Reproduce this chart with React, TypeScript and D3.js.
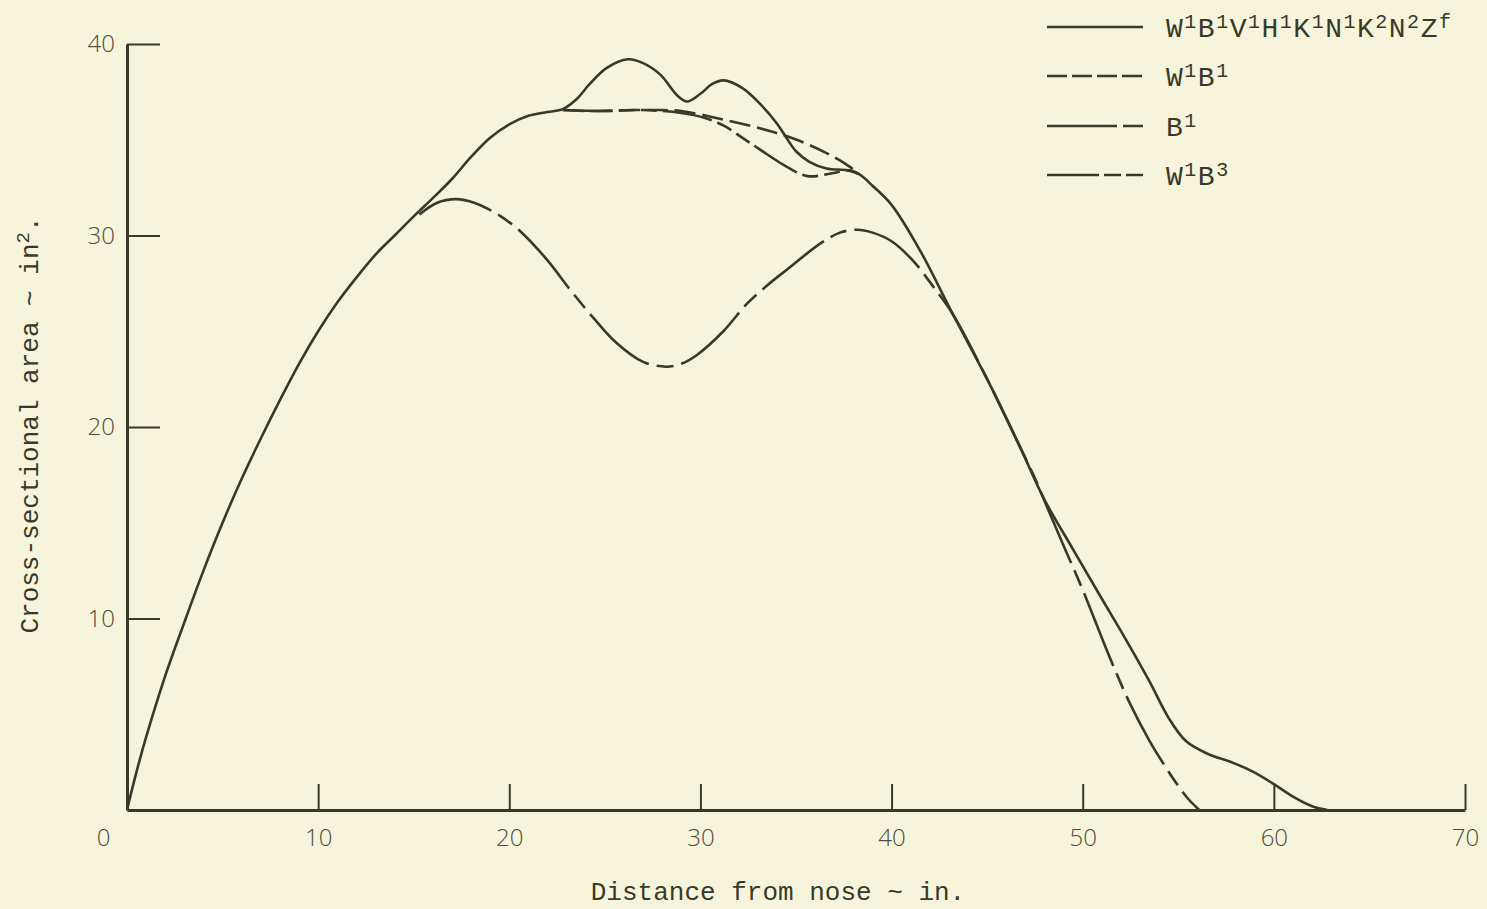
import * as d3 from "d3";
import React, { useEffect, useRef } from "react";

// axis ticks
const xTicks = [0, 10, 20, 30, 40, 50, 60, 70];
const yTicks = [10, 20, 30, 40];

// W1B1V1H1K1N1K2N2Zf  (distance in., area in^2)
const fullConfig: [number, number][] = [
  [0, 0], [0.5, 2.0], [1, 3.8], [2, 7.0], [3, 9.8], [4, 12.5], [5, 15.0],
  [6, 17.3], [7, 19.4], [8, 21.4], [9, 23.3], [10, 25.0], [11, 26.5],
  [12, 27.8], [13, 29.0], [14, 30.0], [15, 31.0], [16, 31.95], [17, 32.95],
  [18, 34.1], [19, 35.1], [20, 35.8], [21, 36.25], [22, 36.45], [22.8, 36.6],
  [23.5, 37.1], [24.2, 37.9], [25.1, 38.75], [26.2, 39.2], [27.0, 39.0],
  [27.9, 38.4], [28.8, 37.3], [29.3, 37.0], [30.0, 37.4], [30.6, 37.9],
  [31.2, 38.1], [32.2, 37.7], [33.1, 36.9], [34.0, 35.85], [34.5, 35.1],
  [35.0, 34.4], [35.7, 33.85], [36.6, 33.5], [37.7, 33.4], [38.3, 33.2],
  [39.0, 32.6], [40.0, 31.6], [41.5, 29.2], [43.2, 25.9], [45.0, 22.5],
  [46.7, 19.0], [48.0, 16.2], [49.5, 13.6], [50.9, 11.2], [52.2, 9.0],
  [53.5, 6.7], [54.5, 4.8], [55.4, 3.6], [56.5, 2.95], [57.9, 2.45],
  [59.0, 1.95], [60.0, 1.35], [61.0, 0.7], [62.0, 0.2], [62.8, 0],
];

// W1B1 - only where it leaves the solid curve
const w1b1: [number, number][] = [
  [22.8, 36.55], [24, 36.5], [26.5, 36.55], [28, 36.55], [29, 36.5],
  [31.0, 36.1], [33.1, 35.6], [34.9, 35.05], [36.6, 34.3], [37.8, 33.6],
  [38.3, 33.2],
];

// B1
const b1: [number, number][] = [
  [15.3, 31.1], [16.2, 31.7], [17.2, 31.9], [18.2, 31.7], [19.4, 31.1],
  [20.6, 30.2], [22.0, 28.7], [23.2, 27.15], [24.4, 25.7], [25.6, 24.4],
  [27.0, 23.4], [28.2, 23.15], [29.0, 23.3], [29.8, 23.75], [31.2, 25.0],
  [32.4, 26.4], [33.5, 27.4], [34.5, 28.2], [36.3, 29.6], [37.3, 30.15],
  [38.2, 30.3], [39.0, 30.15], [40.0, 29.7], [41.2, 28.6], [42.2, 27.3],
  [43.2, 25.9], [45.0, 22.5], [46.7, 19.0], [47.6, 17.1], [48.1, 15.9],
  [49.0, 13.8], [50.0, 11.5], [51.4, 8.0], [52.5, 5.5], [53.5, 3.6],
  [54.3, 2.3], [54.9, 1.4], [55.5, 0.6], [56.1, 0],
];

// W1B3 - only where it leaves the other curves
const w1b3: [number, number][] = [
  [22.8, 36.55], [25, 36.5], [27, 36.55], [29, 36.4], [30.2, 36.15],
  [31.2, 35.75], [32.2, 35.1], [33.1, 34.5], [34.5, 33.6], [35.6, 33.1],
  [36.9, 33.25], [37.8, 33.4], [38.3, 33.2],
];

// legend text pieces: [base, superscript]
const legendLabels: [string, string][][] = [
  [["W", "1"], ["B", "1"], ["V", "1"], ["H", "1"], ["K", "1"], ["N", "1"], ["K", "2"], ["N", "2"], ["Z", "f"]],
  [["W", "1"], ["B", "1"]],
  [["B", "1"]],
  [["W", "1"], ["B", "3"]],
];

const ink = "#3a3929";
const paper = "#f6f5dc";
const mono = "'Liberation Mono', 'DejaVu Sans Mono', monospace";
const numFont = "'Open Sans', 'DejaVu Sans', sans-serif";

const series = [
  { data: w1b1, dash: "21,7" },
  { data: w1b3, dash: "50,6,16,6,16,6" },
  { data: b1, dash: "78,8,17,8" },
  { data: fullConfig, dash: undefined as string | undefined },
];
const legendDash = [undefined, "20,5", "70,6,20,6", "52,5,17,5,17,5"];

const App: React.FC = () => {
  const W = 1487, H = 909;
  const x = d3.scaleLinear().domain([0, 70]).range([127, 1465]);
  const y = d3.scaleLinear().domain([0, 40]).range([810, 44]);

  const line = d3
    .line<[number, number]>()
    .x((d) => x(d[0]))
    .y((d) => y(d[1]))
    .curve(d3.curveCatmullRom.alpha(0.5));

  const xAxisRef = useRef<SVGGElement | null>(null);
  const yAxisRef = useRef<SVGGElement | null>(null);

  useEffect(() => {
    if (!xAxisRef.current || !yAxisRef.current) return;
    const gx = d3.select(xAxisRef.current);
    gx.call(
      d3.axisBottom(x).tickValues(xTicks).tickSize(-26).tickSizeOuter(0).tickPadding(19).tickFormat(d3.format("d"))
    );
    gx.select(".domain").attr("stroke", ink).attr("stroke-width", 3);
    gx.selectAll(".tick line").attr("stroke", ink).attr("stroke-width", 2);
    gx.selectAll<SVGGElement, number>(".tick").filter((d) => d === 0).select("line").remove();
    gx.selectAll<SVGGElement, number>(".tick").filter((d) => d === 0).select("text").attr("dx", -24);
    gx.attr("font-family", null).attr("font-size", null);
    gx.selectAll(".tick text")
      .attr("fill", "#4e4d3c")
      .attr("font-family", numFont)
      .attr("font-weight", 300)
      .attr("font-size", 24);

    const gy = d3.select(yAxisRef.current);
    gy.call(d3.axisLeft(y).tickValues(yTicks).tickSize(-33).tickSizeOuter(0).tickPadding(12));
    gy.select(".domain").attr("stroke", ink).attr("stroke-width", 3);
    gy.selectAll(".tick line").attr("stroke", ink).attr("stroke-width", 2);
    gy.attr("font-family", null).attr("font-size", null);
    gy.selectAll(".tick text")
      .attr("fill", "#4e4d3c")
      .attr("font-family", numFont)
      .attr("font-weight", 300)
      .attr("font-size", 24);
  }, []);

  const legendX0 = 1047, legendX1 = 1143;
  const legendRows = [27, 76, 126, 175];

  return (
    <svg
      width={W}
      height={H}
      style={{ position: "fixed", left: 0, top: 0, background: paper }}
    >
      <rect x={0} y={0} width={W} height={H} fill={paper} />
      <g ref={xAxisRef} transform={`translate(0, ${y(0)})`} />
      <g ref={yAxisRef} transform={`translate(${x(0)}, 0)`} />

      {series.map((s, i) => (
        <path
          key={i}
          d={line(s.data) ?? ""}
          fill="none"
          stroke={ink}
          strokeWidth={2.6}
          strokeDasharray={s.dash}
          strokeLinejoin="round"
        />
      ))}

      {legendLabels.map((parts, i) => (
        <g key={i}>
          <line
            x1={legendX0}
            x2={legendX1}
            y1={legendRows[i]}
            y2={legendRows[i]}
            stroke={ink}
            strokeWidth={2.6}
            strokeDasharray={legendDash[i]}
          />
          <text
            x={1166}
            y={legendRows[i] + 10}
            fontFamily={mono}
            fontSize={28}
            fill={ink}
            letterSpacing={1.5}
          >
            {parts.map(([base, sup], j) => (
              <React.Fragment key={j}>
                <tspan dy={j === 0 ? 0 : 9}>{base}</tspan>
                <tspan dy={-9} fontSize={20}>{sup}</tspan>
              </React.Fragment>
            ))}
          </text>
        </g>
      ))}

      <text
        x={778}
        y={900}
        textAnchor="middle"
        fontFamily={mono}
        fontSize={26}
        fill={ink}
      >
        Distance from nose ~ in.
      </text>
      <text
        transform="translate(38, 425) rotate(-90)"
        textAnchor="middle"
        fontFamily={mono}
        fontSize={26}
        fill={ink}
      >
        Cross-sectional area ~ in
        <tspan dy={-9} fontSize={19}>2</tspan>
        <tspan dy={9}>.</tspan>
      </text>
    </svg>
  );
};

export default App;
